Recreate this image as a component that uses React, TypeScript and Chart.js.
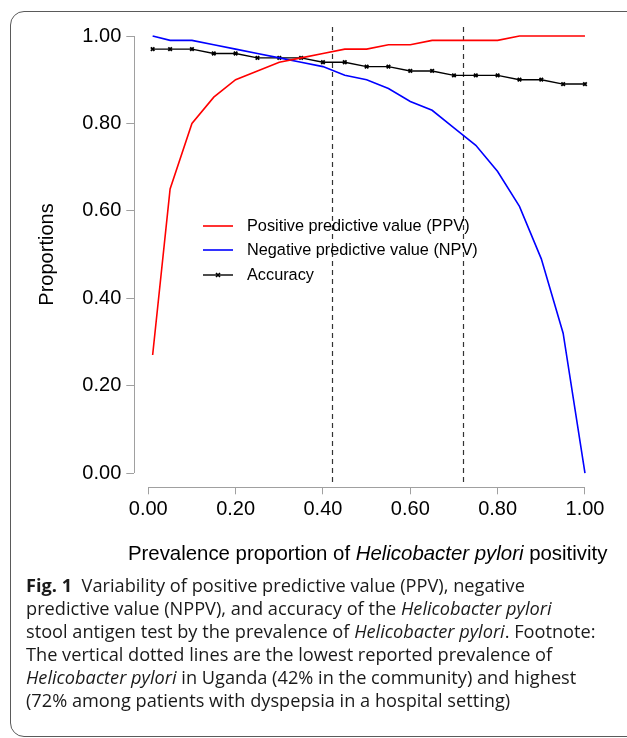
import React, { useEffect, useRef } from "react";
import { Chart, registerables } from "chart.js";

Chart.register(...registerables);

const prevalence = [0.01, 0.05, 0.1, 0.15, 0.2, 0.25, 0.3, 0.35, 0.4, 0.45, 0.5, 0.55, 0.6, 0.65, 0.7, 0.75, 0.8, 0.85, 0.9, 0.95, 1.0];
const ppv = [0.27, 0.65, 0.8, 0.86, 0.9, 0.92, 0.94, 0.95, 0.96, 0.97, 0.97, 0.98, 0.98, 0.99, 0.99, 0.99, 0.99, 1.0, 1.0, 1.0, 1.0];
const npv = [1.0, 0.99, 0.99, 0.98, 0.97, 0.96, 0.95, 0.94, 0.93, 0.91, 0.9, 0.88, 0.85, 0.83, 0.79, 0.75, 0.69, 0.61, 0.49, 0.32, 0.0];
const accuracy = [0.97, 0.97, 0.97, 0.96, 0.96, 0.95, 0.95, 0.95, 0.94, 0.94, 0.93, 0.93, 0.92, 0.92, 0.91, 0.91, 0.91, 0.9, 0.9, 0.89, 0.89];
const tickValues = [0, 0.2, 0.4, 0.6, 0.8, 1.0];
const referenceLines = [0.42, 0.72];
const seriesLabels = ["Positive predictive value (PPV)", "Negative predictive value (NPV)", "Accuracy"];
const seriesColors = ["#ff0000", "#0000ff", "#000000"];

const FONT = "'Liberation Sans', Arial, Helvetica, sans-serif";

const decorPlugin = {
  id: "decor",
  beforeDatasetsDraw(chart: any) {
    const { ctx, chartArea, scales } = chart;
    const xs = scales.x;
    const ys = scales.y;
    ctx.save();
    ctx.strokeStyle = "#333333";
    ctx.lineWidth = 1.2;
    ctx.setLineDash([5, 4]);
    referenceLines.forEach((v) => {
      const px = Math.round(xs.getPixelForValue(v)) + 0.5;
      ctx.beginPath();
      ctx.moveTo(px, chartArea.top);
      ctx.lineTo(px, chartArea.bottom - 2);
      ctx.stroke();
    });
    ctx.setLineDash([]);
    ctx.strokeStyle = "#a0a0a0";
    ctx.lineWidth = 1;
    const yl = Math.round(chartArea.left) + 0.5;
    ctx.beginPath();
    ctx.moveTo(yl, ys.getPixelForValue(0));
    ctx.lineTo(yl, ys.getPixelForValue(1));
    ctx.stroke();
    const xb = Math.round(chartArea.bottom) + 0.5;
    ctx.beginPath();
    ctx.moveTo(xs.getPixelForValue(0), xb);
    ctx.lineTo(xs.getPixelForValue(1), xb);
    ctx.stroke();
    ctx.restore();
  },
  afterDraw(chart: any) {
    const { ctx, scales } = chart;
    const xs = scales.x;
    const ys = scales.y;
    ctx.save();
    const lx0 = 203;
    const lx1 = 233;
    const ly = [226, 250, 275];
    ctx.font = `16.3px ${FONT}`;
    ctx.textBaseline = "middle";
    ctx.textAlign = "left";
    seriesLabels.forEach((lab, i) => {
      ctx.strokeStyle = seriesColors[i];
      ctx.lineWidth = i === 2 ? 1.4 : 1.6;
      ctx.beginPath();
      ctx.moveTo(lx0, ly[i]);
      ctx.lineTo(lx1, ly[i]);
      ctx.stroke();
      if (i === 2) {
        const cx = (lx0 + lx1) / 2;
        ctx.lineWidth = 1.6;
        ctx.beginPath();
        ctx.moveTo(cx - 2, ly[i] - 2);
        ctx.lineTo(cx + 2, ly[i] + 2);
        ctx.moveTo(cx - 2, ly[i] + 2);
        ctx.lineTo(cx + 2, ly[i] - 2);
        ctx.stroke();
      }
      ctx.fillStyle = "#000";
      ctx.fillText(lab, 247, ly[i] + 0.5);
    });
    ctx.font = `20px ${FONT}`;
    ctx.fillStyle = "#000";
    ctx.save();
    ctx.translate(47, (ys.getPixelForValue(0) + ys.getPixelForValue(1)) / 2);
    ctx.rotate(-Math.PI / 2);
    ctx.textAlign = "center";
    ctx.textBaseline = "middle";
    ctx.fillText("Proportions", 0, 0);
    ctx.restore();
    const parts = [
      { t: "Prevalence proportion of ", it: false },
      { t: "Helicobacter pylori", it: true },
      { t: " positivity", it: false },
    ];
    const size = 20.4;
    let total = 0;
    const widths = parts.map((p) => {
      ctx.font = `${p.it ? "italic " : ""}${size}px ${FONT}`;
      const w = ctx.measureText(p.t).width;
      total += w;
      return w;
    });
    const cxMid = (xs.getPixelForValue(0) + xs.getPixelForValue(1)) / 2 + 1;
    let x = cxMid - total / 2;
    ctx.textAlign = "left";
    ctx.textBaseline = "middle";
    parts.forEach((p, i) => {
      ctx.font = `${p.it ? "italic " : ""}${size}px ${FONT}`;
      ctx.fillText(p.t, x, 554);
      x += widths[i];
    });
    ctx.restore();
  },
};

export default function App() {
  const canvasRef = useRef<HTMLCanvasElement | null>(null);

  useEffect(() => {
    if (!canvasRef.current) return;
    const setTicks = (scale: any) => {
      scale.ticks = tickValues.map((v) => ({ value: v }));
    };
    const chart = new Chart(canvasRef.current, {
      type: "line",
      data: {
        datasets: [
          {
            label: seriesLabels[0],
            data: prevalence.map((p, i) => ({ x: p, y: ppv[i] })),
            borderColor: seriesColors[0],
            borderWidth: 1.6,
            pointRadius: 0,
            tension: 0,
          },
          {
            label: seriesLabels[1],
            data: prevalence.map((p, i) => ({ x: p, y: npv[i] })),
            borderColor: seriesColors[1],
            borderWidth: 1.6,
            pointRadius: 0,
            tension: 0,
          },
          {
            label: seriesLabels[2],
            data: prevalence.map((p, i) => ({ x: p, y: accuracy[i] })),
            borderColor: seriesColors[2],
            borderWidth: 1.4,
            pointStyle: "crossRot",
            pointRadius: 2.5,
            pointBorderWidth: 1.8,
            pointBorderColor: "#000",
            tension: 0,
          },
        ],
      },
      options: {
        animation: false,
        responsive: false,
        devicePixelRatio: 1,
        layout: { padding: { top: 27, right: 25, left: 0, bottom: 0 } },
        plugins: { legend: { display: false }, tooltip: { enabled: false } },
        scales: {
          x: {
            type: "linear",
            min: -0.032,
            max: 1.039,
            afterBuildTicks: setTicks,
            afterFit: (s: any) => {
              s.height = 575 - 487.3;
            },
            border: { display: false },
            grid: { display: true, drawOnChartArea: false, drawTicks: true, tickLength: 7, color: "#a0a0a0" },
            ticks: {
              color: "#000",
              font: { family: FONT, size: 20 },
              padding: 3,
              maxRotation: 0,
              autoSkip: false,
              callback: (v: any) => Number(v).toFixed(2),
            },
          },
          y: {
            type: "linear",
            min: -0.0327,
            max: 1.0206,
            afterBuildTicks: setTicks,
            afterFit: (s: any) => {
              s.width = 134.3;
            },
            border: { display: false },
            grid: { display: true, drawOnChartArea: false, drawTicks: true, tickLength: 8, color: "#a0a0a0" },
            ticks: {
              color: "#000",
              font: { family: FONT, size: 20 },
              padding: 5,
              autoSkip: false,
              callback: (v: any) => Number(v).toFixed(2),
            },
          },
        },
      },
      plugins: [decorPlugin],
    } as any);
    return () => chart.destroy();
  }, []);

  const it = { fontStyle: "italic" } as React.CSSProperties;
  return (
    <div style={{ position: "absolute", left: 0, top: 0, width: 627, height: 738, overflow: "hidden", background: "#fff" }}>
      <div
        style={{
          position: "absolute",
          left: 10,
          top: 11,
          width: 650,
          height: 726,
          border: "1.5px solid #5a5a5a",
          borderRadius: 14,
          boxSizing: "border-box",
        }}
      />
      <canvas ref={canvasRef} width={627} height={575} style={{ position: "absolute", left: 0, top: 0, width: 627, height: 575 }} />
      <div
        style={{
          position: "absolute",
          left: 26,
          top: 574,
          width: 600,
          fontFamily: "'Open Sans', sans-serif",
          fontSize: 18.2,
          lineHeight: "23px",
          color: "#1a1a1a",
          whiteSpace: "nowrap",
        }}
      >
        <div>
          <b>Fig. 1</b>&nbsp; Variability of positive predictive value (PPV), negative
        </div>
        <div>
          predictive value (NPPV), and accuracy of the <span style={it}>Helicobacter pylori</span>
        </div>
        <div>
          stool antigen test by the prevalence of <span style={it}>Helicobacter pylori</span>. Footnote:
        </div>
        <div>The vertical dotted lines are the lowest reported prevalence of</div>
        <div>
          <span style={it}>Helicobacter pylori</span> in Uganda (42% in the community) and highest
        </div>
        <div>(72% among patients with dyspepsia in a hospital setting)</div>
      </div>
    </div>
  );
}
